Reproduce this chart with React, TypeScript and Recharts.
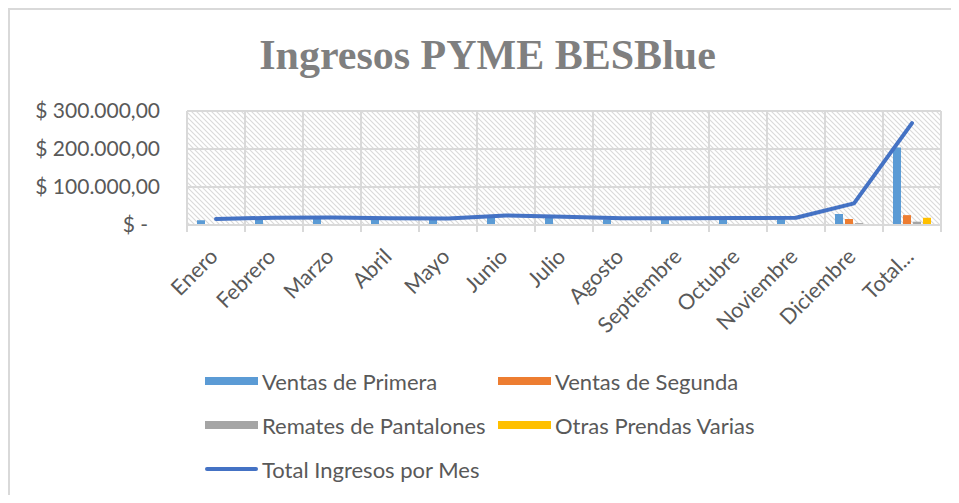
import React from 'react';
import { ComposedChart, Bar, Line, XAxis, YAxis, CartesianGrid } from 'recharts';

// ---- data ----
const MESES = ['Enero', 'Febrero', 'Marzo', 'Abril', 'Mayo', 'Junio', 'Julio', 'Agosto', 'Septiembre', 'Octubre', 'Noviembre', 'Diciembre', 'Total...'];
const VENTAS_PRIMERA = [12500, 16000, 16500, 14500, 14000, 21000, 18500, 14500, 14500, 15000, 15500, 29000, 204000];
const VENTAS_SEGUNDA = [800, 900, 900, 800, 800, 1200, 1000, 800, 800, 900, 900, 15800, 26000];
const REMATES_PANTALONES = [300, 300, 300, 300, 300, 400, 300, 300, 300, 300, 300, 5000, 8700];
const OTRAS_PRENDAS = [1600, 1700, 1700, 1600, 1600, 1900, 1800, 1600, 1600, 1700, 1700, 500, 19000];
const TOTAL_INGRESOS = [15800, 19200, 19700, 17600, 17100, 25000, 21800, 17600, 17600, 18400, 19000, 57000, 268000];
const Y_TICKS = [0, 100000, 200000, 300000];

const SERIES = [
  { key: 'vp', name: 'Ventas de Primera', color: '#5B9BD5', type: 'bar' },
  { key: 'vs', name: 'Ventas de Segunda', color: '#ED7D31', type: 'bar' },
  { key: 'rp', name: 'Remates de Pantalones', color: '#A5A5A5', type: 'bar' },
  { key: 'op', name: 'Otras Prendas Varias', color: '#FFC000', type: 'bar' },
  { key: 'total', name: 'Total Ingresos por Mes', color: '#4472C4', type: 'line' },
];

const data = MESES.map((mes, i) => ({
  mes,
  vp: VENTAS_PRIMERA[i],
  vs: VENTAS_SEGUNDA[i],
  rp: REMATES_PANTALONES[i],
  op: OTRAS_PRENDAS[i],
  total: TOTAL_INGRESOS[i],
}));

// ---- layout ----
const W = 951;
const H = 495;
const M_TOP = 103;
const M_RIGHT = 18;
const Y_AXIS_W = 179;
const PLOT_BOTTOM = 217;
const X_AXIS_H = 40;
const M_BOTTOM = H - PLOT_BOTTOM - X_AXIS_H;
const PLOT_W = W - Y_AXIS_W - M_RIGHT;
const BAND = PLOT_W / MESES.length;
const Y_LABEL_RIGHT = 152;

const FONT = 'Lato, "Noto Sans", sans-serif';
const TEXT_COLOR = '#595959';
const GRID = '#d9d9d9';

function fmt(v: number): string {
  const s = Math.round(v).toString();
  const withDots = s.replace(/\B(?=(\d{3})+(?!\d))/g, '.');
  return withDots + ',00';
}

const YTick = (props: any) => {
  const { y, payload } = props;
  const v = payload.value;
  const isZero = v === 0;
  return (
    <text
      x={isZero ? Y_LABEL_RIGHT - 12 : Y_LABEL_RIGHT}
      y={y}
      dy={7}
      textAnchor="end"
      fontFamily={FONT}
      fontSize={21}
      fill={TEXT_COLOR}
    >
      {isZero ? '$ -' : '$ ' + fmt(v)}
    </text>
  );
};

const XTick = (props: any) => {
  const { x, payload, index } = props;
  const last = index === MESES.length - 1;
  return (
    <g>
      <line x1={x - BAND / 2} x2={x - BAND / 2} y1={PLOT_BOTTOM} y2={PLOT_BOTTOM + 7} stroke={GRID} strokeWidth={2} />
      {last && (
        <line x1={x + BAND / 2} x2={x + BAND / 2} y1={PLOT_BOTTOM} y2={PLOT_BOTTOM + 7} stroke={GRID} strokeWidth={2} />
      )}
      <text
        transform={`translate(${x + 3},${PLOT_BOTTOM + 33}) rotate(-45)`}
        textAnchor="end"
        fontFamily={FONT}
        fontSize={21.5}
        fill={TEXT_COLOR}
      >
        {payload.value}
      </text>
    </g>
  );
};

const LegendBox = () => {
  const rows: any[][] = [[SERIES[0], SERIES[1]], [SERIES[2], SERIES[3]], [SERIES[4]]];
  return (
    <div style={{ position: 'absolute', left: 197, top: 351, fontFamily: FONT, fontSize: 22, color: TEXT_COLOR }}>
      {rows.map((row, r) => (
        <div key={r} style={{ display: 'flex', height: 44, alignItems: 'center' }}>
          {row.map((s) => (
            <div key={s.key} style={{ display: 'flex', alignItems: 'center', width: 293, whiteSpace: 'nowrap' }}>
              <div
                style={{
                  width: 53,
                  height: s.type === 'line' ? 4 : 8,
                  background: s.color,
                  borderRadius: s.type === 'line' ? 2 : 0,
                  marginRight: 4,
                }}
              />
              <span>{s.name}</span>
            </div>
          ))}
        </div>
      ))}
    </div>
  );
};

export default function App() {
  return (
    <div style={{ position: 'relative', width: W, height: H, marginBottom: -8, background: '#fff' }}>
      <div
        style={{
          position: 'absolute',
          left: 0,
          top: 0,
          width: W,
          height: H,
          borderLeft: `2px solid ${GRID}`,
          borderTop: `2px solid ${GRID}`,
          boxSizing: 'border-box',
          pointerEvents: 'none',
        }}
      />
      <div
        style={{
          position: 'absolute',
          left: 4,
          top: 26,
          width: W,
          textAlign: 'center',
          fontFamily: '"Liberation Serif", "DejaVu Serif", serif',
          fontWeight: 'bold',
          fontSize: 42,
          lineHeight: '42px',
          color: '#7f7f7f',
        }}
      >
        Ingresos PYME BESBlue
      </div>
      <ComposedChart
        width={W}
        height={H}
        data={data}
        margin={{ top: M_TOP, right: M_RIGHT, bottom: M_BOTTOM, left: 0 }}
        barSize={8}
        barGap={2}
      >
        <defs>
          <pattern id="hatch" patternUnits="userSpaceOnUse" width={5} height={5}>
            <rect x={0} y={0} width={5} height={5} fill="#ffffff" />
            <path d="M0,0 L5,5 M-1,4 L1,6 M4,-1 L6,1" stroke="#dadada" strokeWidth={1.1} />
          </pattern>
        </defs>
        <CartesianGrid
          fill="url(#hatch)"
          stroke={GRID}
          strokeWidth={2}
          verticalCoordinatesGenerator={({ offset }: any) =>
            Array.from({ length: MESES.length + 1 }, (_, i) => offset.left + (i * offset.width) / MESES.length)
          }
        />
        <XAxis
          dataKey="mes"
          interval={0}
          tickLine={false}
          axisLine={{ stroke: GRID, strokeWidth: 2 }}
          tick={<XTick />}
          height={X_AXIS_H}
        />
        <YAxis
          width={Y_AXIS_W}
          domain={[0, 300000]}
          ticks={Y_TICKS}
          tickLine={false}
          axisLine={false}
          tick={<YTick />}
        />
        <Bar dataKey="vp" name={SERIES[0].name} fill={SERIES[0].color} isAnimationActive={false} />
        <Bar dataKey="vs" name={SERIES[1].name} fill={SERIES[1].color} isAnimationActive={false} />
        <Bar dataKey="rp" name={SERIES[2].name} fill={SERIES[2].color} isAnimationActive={false} />
        <Bar dataKey="op" name={SERIES[3].name} fill={SERIES[3].color} isAnimationActive={false} />
        <Line
          dataKey="total"
          name={SERIES[4].name}
          type="linear"
          stroke={SERIES[4].color}
          strokeWidth={4}
          strokeLinecap="round"
          strokeLinejoin="round"
          dot={false}
          activeDot={false}
          isAnimationActive={false}
        />
      </ComposedChart>
      <LegendBox />
    </div>
  );
}
